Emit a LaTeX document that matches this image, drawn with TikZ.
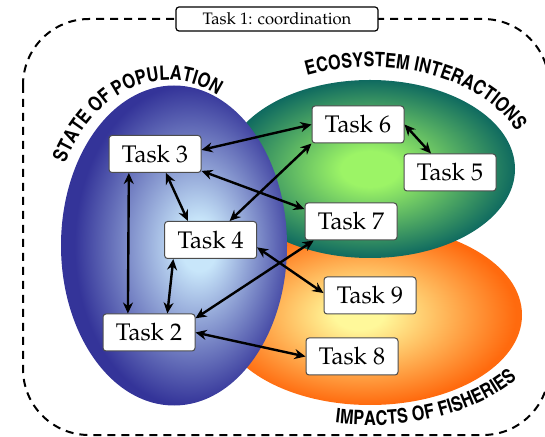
\documentclass[tikz,border=0pt]{standalone}
\usepackage[T1]{fontenc}
\usepackage{mathpazo}
\usetikzlibrary{arrows.meta,decorations.text}
\definecolor{popIn}{HTML}{C8E6FA}
\definecolor{popOut}{HTML}{343499}
\definecolor{ecoIn}{HTML}{9CF466}
\definecolor{ecoOut}{HTML}{0F6A60}
\definecolor{fishIn}{HTML}{FFF89A}
\definecolor{fishOut}{HTML}{FF6A0E}
\pgfdeclareradialshading{popShade}{\pgfpoint{6bp}{0bp}}{color(0bp)=(popIn); color(4bp)=(popIn); color(25bp)=(popOut); color(50bp)=(popOut)}
\pgfdeclareradialshading{ecoShade}{\pgfpoint{0bp}{0bp}}{color(0bp)=(ecoIn); color(5bp)=(ecoIn); color(25bp)=(ecoOut); color(50bp)=(ecoOut)}
\pgfdeclareradialshading{fishShade}{\pgfpoint{-2bp}{0bp}}{color(0bp)=(fishIn); color(4bp)=(fishIn); color(25bp)=(fishOut); color(50bp)=(fishOut)}
\newcommand{\bandfont}{\fontfamily{phv}\fontseries{bc}\fontsize{10}{10}\selectfont}
\tikzset{
  task/.style={rectangle, draw=black!70, fill=white, line width=0.5pt, rounded corners=1.5pt, minimum width=46pt, minimum height=18.5pt, inner sep=0pt, font=\fontsize{12}{14}\selectfont},
  headbox/.style={rectangle, draw=black, fill=white, line width=0.6pt, rounded corners=1.5pt, minimum width=101pt, minimum height=12pt, inner sep=0pt, font=\fontsize{8.3}{10}\selectfont},
  link/.style={{Stealth[length=5.5pt,width=5pt]}-{Stealth[length=5.5pt,width=5pt]}, line width=1.2pt},
  band/.style={decorate, decoration={text along path, text align=center, text={#1}}}
}
\begin{document}
\begin{tikzpicture}[x=0.5pt, y=-0.5pt]
\useasboundingbox (0,0) rectangle (545,437);
\clip (0,0) rectangle (545,437);

\shade[shading=fishShade] (370,315) ellipse [x radius=152, y radius=90];
\shade[shading=ecoShade] (370,169) ellipse [x radius=145, y radius=89];
\shade[shading=popShade] (174,245.5) ellipse [x radius=113, y radius=160];

\draw[dash pattern=on 4pt off 3pt, line width=1pt, rounded corners=33pt] (23,19) rectangle (549,435);
\node[headbox] (t1) at (277,19) {Task 1: coordination};

\path[band={|\bandfont|STATE OF POPULATION}] ([shift={(-168:118 and 162)}]168,242) arc[start angle=-168, end angle=-45, x radius=118, y radius=162];
\path[band={|\bandfont|ECOSYSTEM INTERACTIONS}] ([shift={(-122:157.2 and 102.2)}]370,169) arc[start angle=-122, end angle=-10, x radius=157.2, y radius=102.2];
\path[band={|\bandfont|IMPACTS OF FISHERIES}] ([shift={(122:180 and 110)}]370,315) arc[start angle=122, end angle=6, x radius=180, y radius=110];

\node[task] (t3) at (155,154) {Task 3};
\node[task] (t6) at (358,124.5) {Task 6};
\node[task] (t5) at (450,172.5) {Task 5};
\node[task] (t7) at (351,221.5) {Task 7};
\node[task] (t4) at (210.6,240) {Task 4};
\node[task] (t9) at (370,295.5) {Task 9};
\node[task] (t2) at (149,332.5) {Task 2};
\node[task] (t8) at (352,356.5) {Task 8};

\draw[link] (t3.5) -- (t6.west);
\draw[link] (t6.east) -- (t5.135);
\draw[link] (t3.-20) -- (t7.165);
\draw[link] (t3.-60) -- (t4.140);
\draw[link] (t4.45) -- (t6.south west);
\draw[link] (t3.-144) -- (t2.138);
\draw[link] (t2.46) -- (t4.-153);
\draw[link] (t2.17) -- (t7.-153);
\draw[link] (t4.-9) -- (t9.177);
\draw[link] (t2.east) -- (t8.west);
\end{tikzpicture}
\end{document}
